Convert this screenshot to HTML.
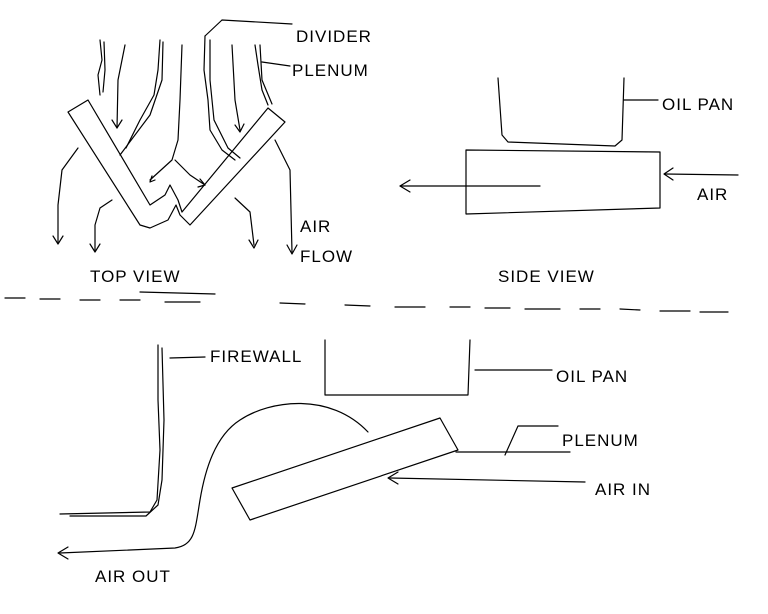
<!DOCTYPE html>
<html><head><meta charset="utf-8"><style>
html,body{margin:0;padding:0;background:#fff;}
svg{display:block}
text{font-family:"Liberation Sans",sans-serif;font-size:17px;fill:#000;letter-spacing:1px}
path,line,polyline,polygon{fill:none;stroke:#000;stroke-width:1.2;stroke-linecap:round;stroke-linejoin:round}
</style></head><body>
<svg width="768" height="614" viewBox="0 0 768 614" xmlns="http://www.w3.org/2000/svg">
<!-- TOP VIEW -->
<!-- left bar -->
<path d="M68 112 L88 100 L150 205 L165 195 L170 185 L178 200 L182 212 L268 108 L285 122 L190 225 L180 215 L176 205 L168 220 L150 228 L140 225 Z"/>
<!-- ducts -->
<path d="M100 40 L102 60 L98 75 L100 95"/>
<path d="M104 42 L105 70 L103 92"/>
<path d="M160 40 L158 70 L154 95 L140 120 L126 148"/>
<path d="M163 42 L162 80 L150 115 L120 155"/>
<path d="M205 36 L204 70 L208 100 L210 130 L222 150 L235 160"/>
<path d="M210 40 L210 80 L214 120 L228 148 L240 158"/>
<path d="M255 45 L258 65 L262 90 L268 105"/>
<path d="M260 45 L262 80 L272 104"/>
<path d="M222 20 L292 24 M205 36 L222 20"/>
<path d="M262 62 L290 66"/>
<!-- flow arrows -->
<path d="M125 45 L118 80 L117 128"/><path d="M112 120 L117 128 L122 120"/>
<path d="M182 45 L180 100 L178 140 L172 160 L150 180"/><path d="M155 180 L150 182 L152 176"/>
<path d="M175 160 L190 175 L205 185"/><path d="M198 187 L205 185 L200 179"/>
<path d="M232 45 L235 100 L240 130"/><path d="M235 125 L240 132 L244 124"/>
<path d="M78 148 L62 170 L58 205 L58 242"/><path d="M53 236 L58 244 L63 236"/>
<path d="M112 200 L100 208 L95 225 L95 250"/><path d="M90 244 L95 252 L100 244"/>
<path d="M235 198 L250 212 L254 245"/><path d="M249 240 L254 248 L258 240"/>
<path d="M275 140 L290 170 L292 252"/><path d="M287 245 L292 254 L297 245"/>
<text x="296" y="42">DIVIDER</text>
<text x="292" y="76">PLENUM</text>
<text x="300" y="232">AIR</text>
<text x="300" y="262">FLOW</text>
<text x="90" y="282">TOP VIEW</text>
<path d="M140 292 L215 294"/>
<!-- SIDE VIEW -->
<path d="M498 78 L502 135 L508 142 L615 146 L622 140 L624 78"/>
<path d="M624 100 L658 100"/>
<path d="M466 150 L660 152 L660 208 L466 214 Z"/>
<path d="M540 186 L400 186"/><path d="M410 180 L400 186 L410 192"/>
<path d="M738 175 L665 174"/><path d="M673 168 L664 174 L673 180"/>
<text x="662" y="110">OIL PAN</text>
<text x="697" y="200">AIR</text>
<text x="498" y="282">SIDE VIEW</text>
<!-- dashed divider -->
<path d="M5 298 L25 298 M40 299 L60 299 M80 300 L100 300 M120 300 L140 300 M165 302 L200 302 M280 303 L305 304 M345 305 L370 306 M395 307 L425 307 M450 307 L470 307 M485 308 L510 308 M525 309 L560 309 M580 309 L600 309 M620 309 L640 310 M660 311 L690 311 M700 312 L728 312"/>
<!-- BOTTOM -->
<path d="M158 345 L158 400 L160 450 L157 500 L150 512 L60 514"/>
<path d="M162 348 L164 420 L162 480 L158 505 L146 516 L70 516"/>
<path d="M170 358 L205 357"/>
<text x="210" y="362">FIREWALL</text>
<path d="M325 340 L325 395 L468 395 L470 340"/>
<path d="M475 370 L552 370"/>
<text x="556" y="382">OIL PAN</text>
<path d="M232 488 L440 418 L458 450 L250 520 Z"/>
<path d="M456 452 L570 452"/>
<path d="M505 455 L518 426 L558 426"/>
<text x="562" y="446">PLENUM</text>
<path d="M585 482 L390 478"/><path d="M398 472 L388 478 L398 484"/>
<text x="595" y="495">AIR IN</text>
<path d="M368 432 C330 392 270 400 240 420 C215 436 205 470 200 500 C195 530 195 545 175 548 L60 553"/>
<path d="M68 547 L58 553 L68 559"/>
<text x="95" y="582">AIR OUT</text>
</svg>
</body></html>
